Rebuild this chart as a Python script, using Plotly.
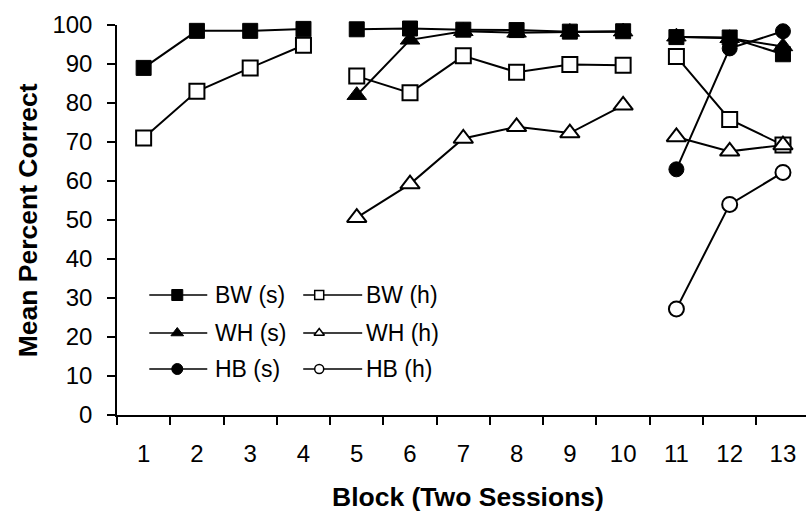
import plotly.graph_objects as go

# Blocks (two sessions each) and the three training phases
blocks = [str(b) for b in range(1, 14)]
phases = [(1, 4), (5, 10), (11, 13)]

# Mean percent correct per block
bw_s = [89.0, 98.5, 98.5, 99.0, 98.9, 99.1, 98.8, 98.7, 98.3, 98.4, 96.9, 96.8, 92.5]
bw_h = [71.0, 83.0, 89.0, 94.8, 86.9, 82.6, 92.1, 87.9, 89.9, 89.7, 91.9, 75.8, 69.2]
wh_s = [None, None, None, None, 82.0, 96.2, 98.4, 98.0, 98.2, 98.3, 97.0, 96.6, 94.5]
wh_h = [None, None, None, None, 50.6, 59.2, 70.9, 73.9, 72.3, 79.4, 71.3, 67.6, 69.2]
hb_s = [None] * 10 + [63.0, 94.0, 98.4]
hb_h = [None] * 10 + [27.2, 54.0, 62.2]

series_names = ["BW (s)", "BW (h)", "WH (s)", "WH (h)", "HB (s)", "HB (h)"]
series_values = [bw_s, bw_h, wh_s, wh_h, hb_s, hb_h]
series_symbols = ["square", "square", "triangle-up", "triangle-up", "circle", "circle"]
series_filled = [True, False, True, False, True, False]

# Figure geometry (pixels)
W, H = 806, 512
PL, PR, PT, PB = 116.7, 806, 25, 415
FONT = "Arial, Liberation Sans, sans-serif"


def phased(values):
    """Join blocks within a phase; break the line between phases."""
    xs, ys = [], []
    for k, (a, b) in enumerate(phases):
        if k:
            xs.append(None)
            ys.append(None)
        for blk in range(a, b + 1):
            xs.append(blocks[blk - 1])
            ys.append(values[blk - 1])
    return xs, ys


fig = go.Figure()

for name, vals, sym, filled in zip(series_names, series_values, series_symbols, series_filled):
    xs, ys = phased(vals)
    size = 17 if sym.startswith("triangle") else 15
    fig.add_trace(go.Scatter(
        x=xs, y=ys, name=name, mode="lines+markers",
        connectgaps=False, cliponaxis=False, showlegend=False,
        line=dict(color="black", width=2),
        marker=dict(symbol=sym, size=size,
                    color="black" if filled else "white",
                    line=dict(color="black", width=1 if filled else 2)),
    ))

# Key drawn inside the plot area (pixel-unit overlay axes)
key_rows = [295, 333, 369]
key_cols = [dict(x0=149, x1=207, xm=177, xt=213),
            dict(x0=303, x1=362, xm=319, xt=364)]
annotations = []
for i, (name, sym, filled) in enumerate(zip(series_names, series_symbols, series_filled)):
    r, c = divmod(i, 2)
    col = key_cols[c]
    yr = key_rows[r]
    fig.add_trace(go.Scatter(
        x=[col["x0"], col["x1"]], y=[yr, yr], mode="lines",
        xaxis="x2", yaxis="y2", showlegend=False, hoverinfo="skip",
        cliponaxis=False, line=dict(color="black", width=1.5),
    ))
    fig.add_trace(go.Scatter(
        x=[col["xm"]], y=[yr], mode="markers",
        xaxis="x2", yaxis="y2", showlegend=False, hoverinfo="skip",
        cliponaxis=False,
        marker=dict(symbol=sym, size=11 if filled else 9,
                    color="black" if filled else "white",
                    line=dict(color="black", width=1 if filled else 1.5)),
    ))
    annotations.append(dict(
        x=col["xt"], y=yr, xref="x2", yref="y2", text=name, showarrow=False,
        xanchor="left", yanchor="middle",
        font=dict(family=FONT, size=23, color="black"),
    ))

plot_w = PR - PL
plot_h = PB - PT
annotations.append(dict(
    x=(468 - PL) / plot_w, y=-(497 - PB) / plot_h, xref="paper", yref="paper",
    text="<b>Block (Two Sessions)</b>", showarrow=False,
    xanchor="center", yanchor="middle",
    font=dict(family=FONT, size=26.5, color="black"),
))
annotations.append(dict(
    x=-(PL - 28) / plot_w, y=0.5, xref="paper", yref="paper",
    text="<b>Mean Percent Correct</b>", showarrow=False, textangle=-90,
    xanchor="center", yanchor="middle",
    font=dict(family=FONT, size=26.5, color="black"),
))

fig.update_layout(
    width=W, height=H,
    margin=dict(l=PL, r=W - PR, t=PT, b=H - PB, pad=0),
    paper_bgcolor="white", plot_bgcolor="white",
    font=dict(family=FONT, color="black"),
    showlegend=False,
    annotations=annotations,
    xaxis=dict(
        type="category", categoryorder="array", categoryarray=blocks,
        range=[-0.5, -0.5 + plot_w / 53.3],
        tickson="boundaries", ticks="outside", ticklen=8, tickwidth=1.5,
        tickcolor="black", showline=True, linecolor="black", linewidth=1.5,
        showgrid=False, zeroline=False,
        tickfont=dict(family=FONT, size=24, color="black"),
        ticklabelstandoff=16,
    ),
    yaxis=dict(
        range=[0, 100], tickmode="linear", tick0=0, dtick=10,
        ticks="outside", ticklen=8, tickwidth=1.5, tickcolor="black",
        showline=True, linecolor="black", linewidth=1.5,
        showgrid=False, zeroline=False,
        tickfont=dict(family=FONT, size=24, color="black"),
        ticklabelstandoff=10,
    ),
    xaxis2=dict(overlaying="x", anchor="y2", range=[PL, PR], visible=False),
    yaxis2=dict(overlaying="y", anchor="x2", range=[PB, PT], visible=False),
)

fig.write_html("out.html")
